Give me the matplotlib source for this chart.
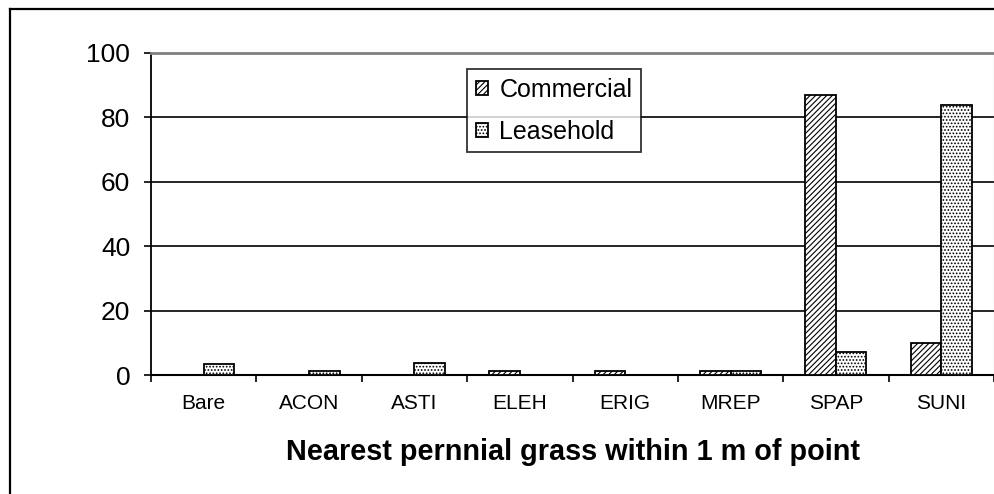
import matplotlib
matplotlib.use("Agg")
import matplotlib.pyplot as plt
import numpy as np
from matplotlib.lines import Line2D

plt.rcParams['font.family'] = ['Liberation Sans', 'DejaVu Sans']
plt.rcParams['hatch.linewidth'] = 0.8
plt.rcParams['hatch.color'] = '#404040'

categories = ["Bare", "ACON", "ASTI", "ELEH", "ERIG", "MREP", "SPAP", "SUNI"]
commercial = [0, 0, 0, 1.3, 1.3, 1.3, 87, 10]
leasehold = [3.3, 1.3, 3.8, 0, 0, 1.3, 7, 84]
series_names = ["Commercial", "Leasehold"]
y_ticks = [0, 20, 40, 60, 80, 100]
x_title = "Nearest pernnial grass within 1 m of point"

W, H = 995, 494
fig = plt.figure(figsize=(W / 100, H / 100), dpi=100)
ax = fig.add_axes([151 / W, 1 - 375 / H, (994 - 151) / W, (375 - 53) / H])

x = np.arange(len(categories))
bw = 0.29
ax.bar(x - bw / 2, commercial, bw, facecolor="white", edgecolor="black",
       linewidth=1.3, hatch="//////", label=series_names[0], zorder=3)
ax.bar(x + bw / 2, leasehold, bw, facecolor="white", edgecolor="black",
       linewidth=1.3, hatch=".....", label=series_names[1], zorder=3)

ax.set_xlim(-0.5, len(categories) - 0.5)
ax.set_ylim(0, 100)
ax.set_yticks(y_ticks)
ax.tick_params(axis="y", direction="out", length=5, width=1.2, pad=10,
               labelsize=19)
ax.yaxis.grid(True, color="black", linewidth=1.2, zorder=0)
ax.set_axisbelow(True)

ax.set_xticks(x)
ax.set_xticklabels(categories)
ax.tick_params(axis="x", which="major", length=0, pad=14, labelsize=15)
ax.set_xticks(np.arange(len(categories) + 1) - 0.5, minor=True)
ax.tick_params(axis="x", which="minor", direction="out", length=5, width=1.2)

ax.spines["left"].set_linewidth(1.3)
ax.spines["bottom"].set_linewidth(1.5)
ax.spines["top"].set_color("#808080")
ax.spines["top"].set_linewidth(2)
ax.spines["right"].set_color("#a0a0a0")
ax.spines["right"].set_linewidth(0.8)

ax.set_xlabel(x_title, fontsize=20.8, fontweight="bold", labelpad=18)

leg = ax.legend(loc="upper left", bbox_to_anchor=((467 - 151) / (994 - 151), 1 - (69 - 53) / (375 - 53)),
                fontsize=18, frameon=True, fancybox=False, edgecolor="black",
                handlelength=0.5, handleheight=0.5, handletextpad=0.45,
                labelspacing=0.72, borderpad=0.35, borderaxespad=0)
leg.get_frame().set_linewidth(1.3)
leg.set_zorder(5)

# outer chart frame
fy = 1 - 9.5 / H
fx = 9.5 / W
fig.add_artist(Line2D([fx, fx], [0, fy], transform=fig.transFigure, color="black", linewidth=1.6))
fig.add_artist(Line2D([fx, 1], [fy, fy], transform=fig.transFigure, color="black", linewidth=1.6))

fig.savefig("out.png", dpi=100)
